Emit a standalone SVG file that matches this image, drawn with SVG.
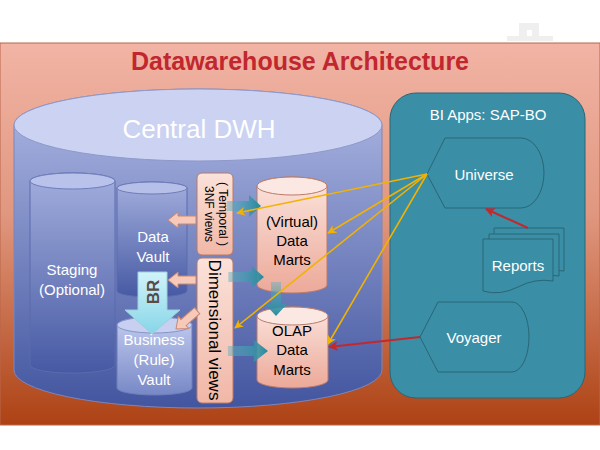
<svg xmlns="http://www.w3.org/2000/svg" width="600" height="450" viewBox="0 0 600 450">
<defs>
  <linearGradient id="panelG" x1="0" y1="0" x2="0" y2="1">
    <stop offset="0" stop-color="#F2B4A5"/>
    <stop offset="0.45" stop-color="#E0977F"/>
    <stop offset="1" stop-color="#AD4214"/>
  </linearGradient>
  <linearGradient id="dwhG" x1="0" y1="0" x2="0" y2="1">
    <stop offset="0" stop-color="#AEB8E4"/>
    <stop offset="1" stop-color="#42559F"/>
  </linearGradient>
  <linearGradient id="innerG" x1="0" y1="0" x2="0" y2="1">
    <stop offset="0" stop-color="#A3AEDD"/>
    <stop offset="1" stop-color="#4659A3"/>
  </linearGradient>
  <linearGradient id="bvG" x1="0" y1="0" x2="0" y2="1">
    <stop offset="0" stop-color="#C4CDF0"/>
    <stop offset="1" stop-color="#7788C6"/>
  </linearGradient>
  <linearGradient id="pinkG" x1="0" y1="0" x2="0" y2="1">
    <stop offset="0" stop-color="#FBE4DD"/>
    <stop offset="1" stop-color="#ECA999"/>
  </linearGradient>
  <linearGradient id="viewG" x1="0" y1="0" x2="0" y2="1">
    <stop offset="0" stop-color="#FBE2DA"/>
    <stop offset="1" stop-color="#F1B7A7"/>
  </linearGradient>
  <linearGradient id="brG" x1="0" y1="0" x2="0" y2="1">
    <stop offset="0" stop-color="#D2F3FA"/>
    <stop offset="1" stop-color="#86D6E8"/>
  </linearGradient>
  <linearGradient id="tealG" x1="0" y1="0" x2="1" y2="0">
    <stop offset="0" stop-color="#5FB0C0" stop-opacity="0.45"/>
    <stop offset="1" stop-color="#23889C"/>
  </linearGradient>
  <marker id="ya" viewBox="0 0 10 10" refX="9" refY="5" markerWidth="9" markerHeight="9" markerUnits="userSpaceOnUse" orient="auto">
    <path d="M0,0 L10,5 L0,10 L3,5 Z" fill="#F2B200"/>
  </marker>
  <marker id="ra" viewBox="0 0 10 10" refX="9" refY="5" markerWidth="10" markerHeight="10" markerUnits="userSpaceOnUse" orient="auto">
    <path d="M0,0 L10,5 L0,10 L3,5 Z" fill="#C3282E"/>
  </marker>
  <path id="pinkArrow" d="M0,0 L10,-8 L10,-4 L28,-4 L28,4 L10,4 L10,8 Z"/>
  <path id="tealArrow" d="M-34,-5 H-12 V-11 L0,0 L-12,11 V5 H-34 Z"/>
  <style>
    text { font-family: "Liberation Sans", Arial, sans-serif; }
    .w { fill: #ffffff; text-anchor: middle; }
    .k { fill: #000000; text-anchor: middle; }
    .pa { fill: #F7C9B9; stroke: #C98672; stroke-width: 1; }
    .ta { fill: url(#tealG); }
    .yl { stroke: #F2B200; stroke-width: 1.6; fill: none; marker-end: url(#ya); }
    .rl { stroke: #C3282E; stroke-width: 2; fill: none; marker-end: url(#ra); }
    .bi { fill: #3A8EA6; stroke: #2A6676; stroke-width: 1; }
    .view { fill: url(#viewG); stroke: #B87A66; stroke-width: 1; }
  </style>
</defs>

<rect width="600" height="450" fill="#ffffff"/>
<path d="M507,41 V36 H519 V23 H539 V36 H553 V41 Z M527,36 H532 V30 H527 Z" fill="#EFEFEF" fill-rule="evenodd"/>

<g id="panel">
  <rect x="0" y="43" width="600" height="382" fill="url(#panelG)" stroke="#B9664A" stroke-width="1"/>
  <text x="300" y="70" font-size="25" font-weight="bold" fill="#C1272E" text-anchor="middle">Datawarehouse Architecture</text>
</g>

<g id="central-dwh">
  <path d="M14,125 V370 A184,38 0 0 0 382,370 V125 A184,36 0 0 0 14,125 Z" fill="url(#dwhG)" stroke="#7B86BC" stroke-width="1"/>
  <ellipse cx="198" cy="125" rx="184" ry="36" fill="#CBD2F2" stroke="#8F99CA" stroke-width="1"/>
  <text class="w" x="199" y="138" font-size="26">Central DWH</text>
</g>

<g id="staging">
  <path d="M30,181 V365 A42,8 0 0 0 115,365 V181 A42,8 0 0 0 30,181 Z" fill="url(#innerG)" stroke="#5B6BAE" stroke-width="1"/>
  <ellipse cx="72.5" cy="181" rx="42.5" ry="8" fill="#B9C2EA" stroke="#6E7DBA" stroke-width="1"/>
  <text class="w" font-size="15"><tspan x="72" y="275">Staging</tspan><tspan x="72" y="295">(Optional)</tspan></text>
</g>

<g id="data-vault">
  <path d="M117,188 V291 A35,6 0 0 0 187,291 V188 A35,6 0 0 0 117,188 Z" fill="url(#innerG)" stroke="#5B6BAE" stroke-width="1"/>
  <ellipse cx="152" cy="188" rx="35" ry="6" fill="#B6BFE8" stroke="#6E7DBA" stroke-width="1"/>
  <text class="w" font-size="15"><tspan x="153" y="242">Data</tspan><tspan x="153" y="262">Vault</tspan></text>
</g>

<g id="business-vault">
  <path d="M117,325 V388 A37.5,7 0 0 0 192,388 V325 A37.5,8 0 0 0 117,325 Z" fill="url(#bvG)" stroke="#6E7DBA" stroke-width="1"/>
  <ellipse cx="154.5" cy="325" rx="37.5" ry="8" fill="#C8D0F2" stroke="#8593C8" stroke-width="1"/>
  <text class="w" font-size="15"><tspan x="154" y="345">Business</tspan><tspan x="154" y="365">(Rule)</tspan><tspan x="154" y="385">Vault</tspan></text>
</g>

<g id="br-arrow">
  <path d="M138,272 H167 V310 H180 L152,334 L125,310 H138 Z" fill="url(#brG)" stroke="#9CCFDB" stroke-width="1"/>
  <text transform="translate(159,292) rotate(-90)" font-size="17" font-weight="bold" fill="#5B4B44" text-anchor="middle">BR</text>
</g>

<g id="temporal-3nf-views">
  <rect class="view" x="197" y="173" width="36" height="82" rx="5"/>
  <text transform="translate(219,214) rotate(90)" font-size="12" class="k">( Temporal )</text>
  <text transform="translate(205,214) rotate(90)" font-size="12" class="k">3NF views</text>
</g>

<g id="dimensional-views">
  <rect class="view" x="197" y="258" width="36" height="145" rx="5"/>
  <text transform="translate(209,330) rotate(90)" font-size="17" class="k">Dimensional views</text>
</g>

<g id="virtual-data-marts">
  <path d="M257,186 V285 A35,8 0 0 0 327,285 V186 A35,9 0 0 0 257,186 Z" fill="url(#pinkG)" stroke="#B97B6B" stroke-width="1"/>
  <ellipse cx="292" cy="186" rx="35" ry="9" fill="#FCE8E2" stroke="#B97B6B" stroke-width="1"/>
  <text class="k" font-size="15"><tspan x="292" y="227">(Virtual)</tspan><tspan x="292" y="246">Data</tspan><tspan x="292" y="265">Marts</tspan></text>
</g>

<g id="olap-data-marts">
  <path d="M257,316 V380 A35.5,8 0 0 0 328,380 V316 A35.5,9 0 0 0 257,316 Z" fill="url(#pinkG)" stroke="#B97B6B" stroke-width="1"/>
  <ellipse cx="292.5" cy="316" rx="35.5" ry="9" fill="#FCE8E2" stroke="#B97B6B" stroke-width="1"/>
  <text class="k" font-size="15"><tspan x="292" y="336">OLAP</tspan><tspan x="292" y="355">Data</tspan><tspan x="292" y="375">Marts</tspan></text>
</g>

<g id="bi-apps">
  <rect class="bi" x="390" y="93" width="195" height="305" rx="26"/>
  <text class="w" x="488" y="120" font-size="15">BI Apps: SAP-BO</text>
</g>

<g id="universe">
  <path class="bi" d="M427,174 L445,138 H521 A23,35 0 0 1 521,208 H445 Z"/>
  <text class="w" x="484" y="180" font-size="15">Universe</text>
</g>

<g id="reports">
  <path class="bi" d="M494,228 H564 V271 Q546,268 529,276 Q511,285 494,281 Z"/>
  <path class="bi" d="M489,234 H559 V276 Q541,273 524,281 Q506,290 489,286 Z"/>
  <path class="bi" d="M483,239 H553 V281 Q535,278 518,287 Q500,296 483,291 Z"/>
  <text class="w" x="518" y="271" font-size="15">Reports</text>
</g>

<g id="voyager">
  <path class="bi" d="M420,337 L438,302 H512 A17,35 0 0 1 512,372 H438 Z"/>
  <text class="w" x="474" y="343" font-size="15">Voyager</text>
</g>

<g id="connectors">
  <use href="#pinkArrow" class="pa" transform="translate(168,220)"/>
  <use href="#pinkArrow" class="pa" transform="translate(168,280)"/>
  <use href="#pinkArrow" class="pa" transform="translate(176,329) rotate(-41)"/>
  <use href="#tealArrow" class="ta" transform="translate(261,206)"/>
  <use href="#tealArrow" class="ta" transform="translate(264,277) scale(1.05,1)"/>
  <use href="#tealArrow" class="ta" transform="translate(276,316) rotate(90)"/>
  <use href="#tealArrow" class="ta" transform="translate(268,351) scale(1.18,1)"/>
  <line class="yl" x1="427" y1="174" x2="237" y2="213"/>
  <line class="yl" x1="427" y1="174" x2="328" y2="233"/>
  <line class="yl" x1="427" y1="174" x2="235" y2="328"/>
  <line class="yl" x1="427" y1="174" x2="328" y2="344"/>
  <line class="rl" x1="528" y1="228" x2="486" y2="209"/>
  <line class="rl" x1="420" y1="337" x2="329" y2="347"/>
</g>
</svg>
